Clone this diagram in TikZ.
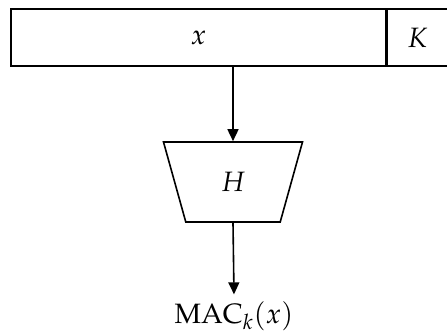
\documentclass[tikz,border=0pt]{standalone}
\usepackage[T1]{fontenc}
\usepackage{mathpazo}
\usetikzlibrary{shapes.geometric,arrows.meta,positioning}

\begin{document}
\begin{tikzpicture}[
  x=0.5pt, y=-0.5pt,
  font=\fontsize{14}{16}\selectfont,
  cell/.style={draw, line width=0.8pt, minimum height=28.5pt, inner sep=0pt},
  hashbox/.style={draw, line width=0.8pt, trapezium, shape border rotate=180,
                  trapezium left angle=73.6, trapezium right angle=73.6,
                  trapezium stretches=true,
                  minimum width=69.5pt, minimum height=40pt, inner sep=0pt},
  arr/.style={-{Triangle[length=6pt, width=5.5pt]}, line width=0.8pt},
]
\useasboundingbox (0,0) rectangle (447,333);

%% --- Nodes ---
\node[cell, minimum width=187.5pt] (msg) at (198.5,37.5) {$x$};
\node[cell, minimum width=40pt, right=0pt of msg] (key) {\hspace*{-10pt}$K$};
\node[hashbox] (hash) at (233,182) {$H$};
\node (mac) at (234,316) {MAC$_k(x)$};

%% --- Arrows ---
\draw[arr] (msg.south -| hash.north) -- (hash.north);
\draw[arr] (hash.south) -- (mac.north);

\end{tikzpicture}
\end{document}
